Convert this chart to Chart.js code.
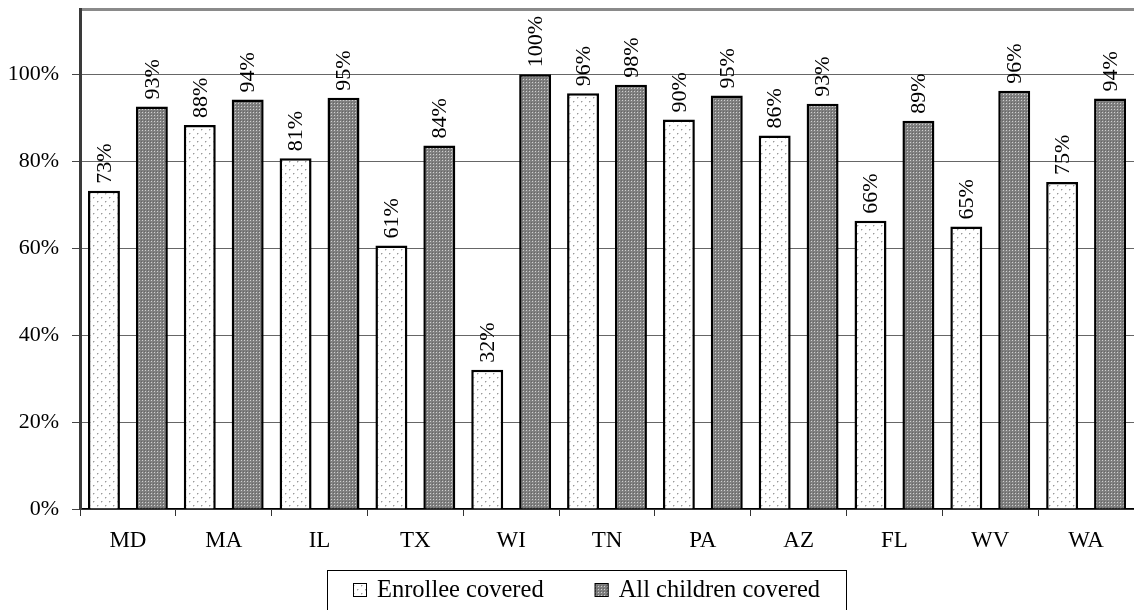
<!DOCTYPE html>
<html>
<head>
<meta charset="utf-8">
<script src="https://cdn.jsdelivr.net/npm/chart.js@4/dist/chart.umd.min.js"></script>
<style>
  html, body { margin: 0; padding: 0; background: #fff; }
  #chart { display: block; }
</style>
</head>
<body>
<canvas id="chart" width="1134" height="610"></canvas>
<script>
const categories = ['MD', 'MA', 'IL', 'TX', 'WI', 'TN', 'PA', 'AZ', 'FL', 'WV', 'WA'];
const enrolleeCovered = [73.2, 88.3, 80.7, 60.6, 32.0, 95.6, 89.6, 85.9, 66.3, 65.0, 75.2];
const allChildrenCovered = [92.6, 94.2, 94.6, 83.6, 100, 97.6, 95.1, 93.2, 89.3, 96.2, 94.4];
const seriesNames = ['Enrollee covered', 'All children covered'];
const yTicks = [0, 20, 40, 60, 80, 100];

const serif = '"Liberation Serif", "Times New Roman", serif';
Chart.defaults.font.family = serif;
Chart.defaults.color = '#000';

// fill patterns like the old excel ones
function makePattern(size, bg, dots) {
    const c = document.createElement('canvas');
    c.width = size;
    c.height = size;
    const p = c.getContext('2d');
    p.fillStyle = bg;
    p.fillRect(0, 0, size, size);
    dots.forEach(d => {
        p.fillStyle = d[2];
        p.fillRect(d[0], d[1], 1, 1);
    });
    return p.createPattern(c, 'repeat');
}

const ctx = document.querySelector('#chart').getContext('2d');
const lightDots = makePattern(8, '#ffffff', [
    [1, 1, '#9a9a9a'], [5, 5, '#9a9a9a'],
    [2, 1, '#d4d4d4'], [1, 2, '#d4d4d4'], [6, 5, '#d4d4d4'], [5, 6, '#d4d4d4']
]);
const darkDots = makePattern(3, '#808080', [[1, 1, '#d0d0d0'], [0, 0, '#666666']]);

const valueLabels = {
    id: 'valueLabels',
    afterDatasetsDraw(chart) {
        const c = chart.ctx;
        c.save();
        c.font = '22px ' + serif;
        c.fillStyle = '#000';
        chart.data.datasets.forEach((ds, i) => {
            chart.getDatasetMeta(i).data.forEach((bar, j) => {
                c.save();
                c.translate(bar.x + 1, bar.y - 7);
                c.rotate(-Math.PI / 2);
                c.textAlign = 'left';
                c.textBaseline = 'middle';
                c.fillText(Math.round(ds.data[j]) + '%', 0, 0);
                c.restore();
            });
        });
        c.restore();
    }
};

const boxLegend = {
    id: 'boxLegend',
    afterDraw(chart) {
        const c = chart.ctx;
        const left = 327, top = 570, h = 40;
        c.save();
        c.font = '24.5px ' + serif;
        c.textBaseline = 'middle';
        let x = left + 26;
        const mid = top + h / 2;
        chart.data.datasets.forEach((ds, i) => {
            c.fillStyle = ds.backgroundColor;
            c.fillRect(x, mid - 7, 14, 14);
            c.strokeStyle = '#000';
            c.lineWidth = 1;
            c.strokeRect(x + 0.5, mid - 6.5, 13, 13);
            c.fillStyle = '#000';
            c.fillText(ds.label, x + 24, mid + 1);
            x += 24 + c.measureText(ds.label).width + 51;
        });
        const right = x - 51 + 26;
        c.strokeStyle = '#000';
        c.lineWidth = 1;
        c.strokeRect(left + 0.5, top + 0.5, right - left, h + 2);
        c.restore();
    }
};

new Chart(ctx, {
    type: 'bar',
    data: {
        labels: categories,
        datasets: [
            {
                label: seriesNames[0],
                data: enrolleeCovered,
                backgroundColor: lightDots,
                borderColor: '#000',
                borderWidth: 2.5,
                borderSkipped: 'bottom'
            },
            {
                label: seriesNames[1],
                data: allChildrenCovered,
                backgroundColor: darkDots,
                borderColor: '#000',
                borderWidth: 2.5,
                borderSkipped: 'bottom'
            }
        ]
    },
    options: {
        responsive: false,
        animation: false,
        layout: { padding: { top: 9, right: -2, bottom: 50, left: 0 } },
        datasets: {
            bar: { categoryPercentage: 1, barPercentage: 0.667 }
        },
        plugins: {
            legend: { display: false },
            tooltip: { enabled: false }
        },
        scales: {
            x: {
                grid: {
                    offset: true,
                    drawOnChartArea: false,
                    tickLength: 7,
                    color: '#333'
                },
                border: { color: '#000', width: 1.5 },
                ticks: { font: { size: 23 }, padding: 11, maxRotation: 0 },
                afterFit: s => { s.height = 51; }
            },
            y: {
                min: 0,
                max: 115,
                afterBuildTicks: s => {
                    s.ticks = yTicks.map(v => ({ value: v })).concat([{ value: 115 }]);
                },
                ticks: {
                    font: { size: 22 },
                    padding: 13,
                    callback: v => yTicks.includes(v) ? v + '%' : ''
                },
                grid: {
                    tickLength: 8,
                    color: c => c.tick && c.tick.value === 115 ? '#8a8a8a' : '#666',
                    lineWidth: c => c.tick && c.tick.value === 115 ? 3 : 1,
                    tickColor: c => c.tick && c.tick.value === 115 ? 'rgba(0,0,0,0)' : '#444'
                },
                border: { color: '#3a3a3a', width: 3 },
                afterFit: s => {
                    s.width = 80;
                    s.paddingTop = 0;
                    s.paddingBottom = 0;
                }
            }
        }
    },
    plugins: [valueLabels, boxLegend]
});
</script>
</body>
</html>
